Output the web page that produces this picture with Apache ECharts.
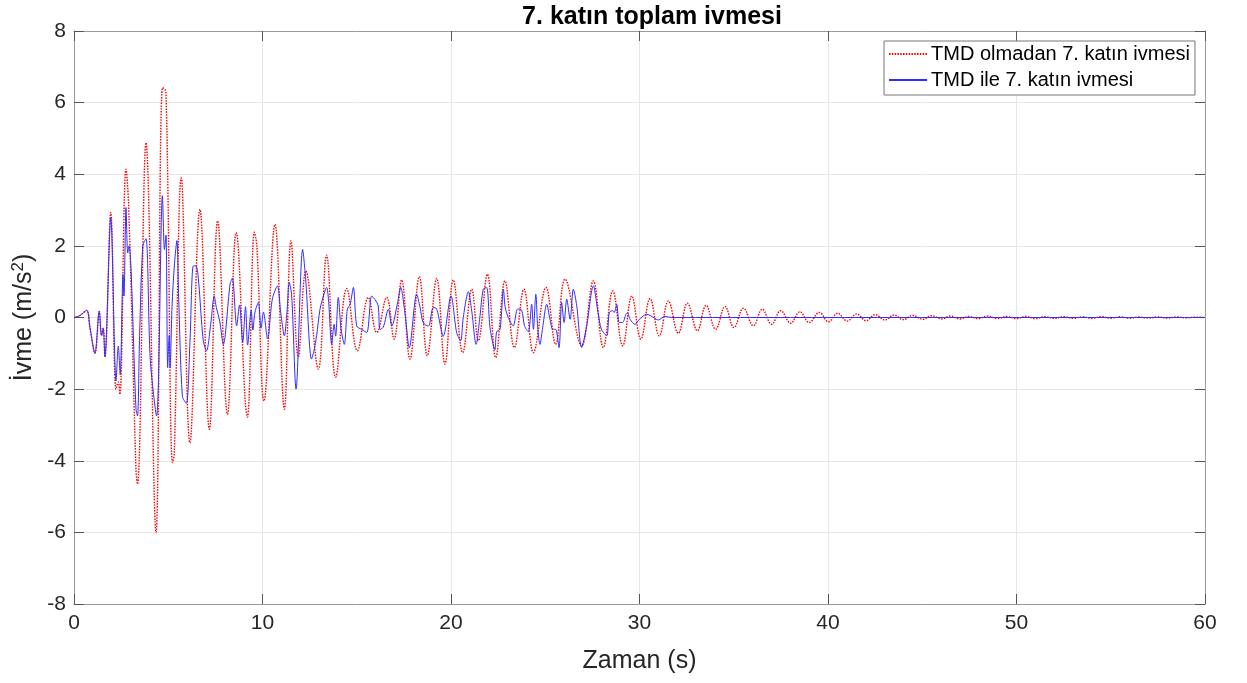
<!DOCTYPE html>
<html>
<head>
<meta charset="utf-8">
<title>7. katın toplam ivmesi</title>
<script src="https://cdn.jsdelivr.net/npm/echarts@6/dist/echarts.min.js"></script>
<style>
	html, body { margin: 0; padding: 0; background: #ffffff; }
	#chart { width: 1247px; height: 683px; }
</style>
</head>
<body>
<div id="chart"></div>
<script>
// [zaman (s), ivme (m/s2)] - peaks and troughs
var ivmeTmdsiz = [
	[0, 0], [0.3, 0.05], [0.67, 0.2], [0.85, -0.3], [1.11, -1.0], [1.34, 0.17], [1.46, -0.5], [1.55, -0.3],
	[1.64, -1.1], [1.95, 2.93], [2.23, -2.0], [2.35, -1.8], [2.43, -2.15], [2.76, 4.14], [2.9, 3.1],
	[3.29, -4.28], [3.37, -4.65], [3.82, 4.88], [4.35, -6.0], [4.7, 6.42], [4.88, 6.3], [5.23, -4.05],
	[5.32, -3.8], [5.69, 3.9], [6.15, -3.5], [6.68, 3.02], [7.18, -3.12], [7.62, 2.7], [8.14, -2.7],
	[8.6, 2.37], [9.09, -2.4], [9.2, -2.78], [9.57, 2.38], [9.7, 2.0], [10.08, -2.33], [10.66, 2.6],
	[11.16, -2.56], [11.51, 2.14], [11.9, -1.1], [12.3, 1.3], [12.96, -1.44], [13.4, 1.74], [13.88, -1.67],
	[14.47, 0.81], [15.03, -0.93], [15.61, 0.56], [16.06, -0.42], [16.59, 0.56], [16.98, -0.6], [17.38, 1.05],
	[17.82, -1.16], [18.32, 1.14], [18.74, -1.07], [19.24, 1.09], [19.68, -1.3], [20.12, 1.05], [20.62, -0.98],
	[21.1, 0.79], [21.45, -0.65], [21.93, 1.21], [22.37, -1.12], [22.86, 1.02], [23.36, -0.84], [23.87, 0.79],
	[24.37, -0.98], [25.04, 0.84], [25.55, -0.75], [26.05, 1.07], [26.93, -0.79], [27.55, 1.02], [28.08, -0.84],
	[28.58, 0.74], [29.11, -0.79], [29.59, 0.6], [30.07, -0.6], [30.56, 0.53], [31.05, -0.51], [31.53, 0.46],
	[32.06, -0.44], [32.54, 0.4], [33.07, -0.37], [33.53, 0.34], [34.04, -0.33], [34.54, 0.31], [35.01, -0.28],
	[35.51, 0.26], [36.04, -0.23], [36.51, 0.23], [37.01, -0.19], [37.49, 0.19], [38.02, -0.16], [38.51, 0.16],
	[39.0, -0.14], [39.54, 0.14], [40.02, -0.12], [40.51, 0.12], [41.02, -0.1], [41.52, 0.1], [42.02, -0.09],
	[42.51, 0.08], [43.02, -0.07], [43.5, 0.07], [44.0, -0.06], [44.49, 0.06], [45.03, -0.05], [45.5, 0.05],
	[46.03, -0.04], [46.47, 0.04], [47.0, -0.04], [47.48, 0.03], [47.98, -0.03], [48.45, 0.04], [49.0, -0.03],
	[49.5, 0.03], [50.0, -0.03], [50.5, 0.03], [51.0, -0.03], [51.5, 0.025], [52.0, -0.025], [52.5, 0.025],
	[53.0, -0.025], [53.5, 0.02], [54.0, -0.02], [54.5, 0.02], [55.0, -0.02], [55.5, 0.02], [56.0, -0.02],
	[56.5, 0.015], [57.0, -0.015], [57.5, 0.015], [58.0, -0.015], [58.5, 0.015], [59.0, -0.01], [59.5, 0.01],
	[60, 0]
];

var ivmeTmdli = [
	[0, 0], [0.3, 0.05], [0.67, 0.2], [0.85, -0.3], [1.11, -1.0], [1.34, 0.17], [1.46, -0.5], [1.55, -0.3],
	[1.64, -1.1], [1.95, 2.8], [2.23, -1.77], [2.35, -0.8], [2.45, -1.6], [2.6, 1.2], [2.65, 0.6], [2.76, 3.07],
	[2.85, 1.8], [2.92, 2.0], [3.29, -2.56], [3.37, -2.75], [3.48, -0.5], [3.65, 2.0], [3.82, 2.2], [4.05, -1.2],
	[4.38, -2.75], [4.69, 3.4], [4.8, 1.9], [4.88, 2.3], [4.97, -1.4], [5.05, -0.5], [5.1, -1.4], [5.2, 0.3],
	[5.33, 1.5], [5.46, 2.15], [5.55, 0.6], [5.75, -2.2], [5.96, -2.4], [6.15, -0.7], [6.33, 1.44], [6.47, 1.44],
	[6.86, -0.65], [7.03, -0.93], [7.25, -0.2], [7.44, 0.6], [7.55, 0.28], [7.73, -0.1], [7.92, -0.75],
	[8.28, 0.93], [8.4, 1.1], [8.63, -0.23], [8.78, 0.35], [8.95, -0.7], [9.1, 0.3], [9.21, -0.77], [9.4, 0.2],
	[9.49, -0.35], [9.6, 0.15], [9.78, 0.42], [9.92, -0.3], [10.05, 0.15], [10.27, -0.6], [10.52, 0.51],
	[10.79, 0.88], [10.96, 0.17], [11.16, -0.51], [11.3, 0.17], [11.42, 0.98], [11.55, 0.6], [11.78, -2.0],
	[12.13, 1.9], [12.29, 1.07], [12.6, -1.16], [12.72, -0.95], [12.87, -0.51], [13.05, 0.23], [13.23, 0.6],
	[13.4, 0.84], [13.5, 0.5], [13.67, -0.75], [13.8, -0.19], [13.88, -0.52], [14.02, 0.56], [14.17, -0.33],
	[14.34, -0.75], [14.5, 0.23], [14.65, 0.37], [14.82, 0.84], [15.0, -0.24], [15.26, -0.33], [15.53, -0.42],
	[15.79, 0.6], [15.97, 0.5], [16.14, 0.32], [16.23, -0.33], [16.4, -0.28], [16.68, 0.23], [16.86, -0.24],
	[17.17, 0.42], [17.33, 0.84], [17.56, 0.1], [17.79, -0.84], [18.18, 0.65], [18.36, 0.28], [18.53, -0.15],
	[18.8, -0.24], [19.06, 0.28], [19.24, 0.24], [19.59, -0.52], [20.0, 0.6], [20.3, -0.42], [20.51, -0.65],
	[20.65, 0.0], [20.92, 0.72], [21.1, 0.18], [21.33, -0.75], [21.54, 0.05], [21.71, 0.79], [21.89, 0.84],
	[22.07, -0.28], [22.33, -0.9], [22.42, -0.4], [22.6, -0.33], [22.78, 0.79], [22.87, 0.3], [23.04, 0.0],
	[23.3, -0.23], [23.54, 0.24], [23.75, 0.2], [23.9, -0.23], [24.1, -0.4], [24.28, 0.37], [24.37, -0.33],
	[24.5, 0.65], [24.6, -0.28], [24.72, -0.75], [24.85, -0.33], [25.08, 0.37], [25.25, -0.05], [25.4, -0.33],
	[25.55, -0.33], [25.73, -0.84], [25.87, 0.42], [26.0, -0.14], [26.14, 0.51], [26.32, -0.05], [26.49, 0.79],
	[26.67, 0.33], [26.93, -0.84], [27.2, -0.23], [27.55, 0.88], [27.8, 0.14], [27.98, -0.33], [28.26, -0.51],
	[28.4, 0.14], [28.58, 0.19], [28.66, 0.14], [28.79, 0.37], [28.93, -0.14], [29.1, -0.14], [29.28, 0.09],
	[29.36, 0.14], [29.5, -0.05], [29.76, -0.19], [30.0, -0.05], [30.38, 0.09], [30.6, 0.05], [31.0, -0.07],
	[31.35, 0.03], [31.7, 0], [60, 0]
];

var seriesNames = ['TMD olmadan 7. katın ivmesi', 'TMD ile 7. katın ivmesi'];
var xTicks = [0, 60, 10];		// min, max, interval
var yTicks = [-8, 8, 2];

var chart = echarts.init(document.getElementById('chart'));

var fontName = 'Liberation Sans, Arial, sans-serif';
var frameLine = { show: true, onZero: false, lineStyle: { color: '#9a9a9a', width: 1 } };
var frameTick = { show: true, inside: true, length: 10, lineStyle: { color: '#555555', width: 1 } };
var labelStyle = { fontFamily: fontName, fontSize: 21, color: '#262626' };

var option = {
	animation: false,
	backgroundColor: '#ffffff',
	title: {
		text: '7. katın toplam ivmesi',
		left: 647, top: 0, textAlign: 'center',
		textStyle: { fontFamily: fontName, fontSize: 25, fontWeight: 'bold', color: '#000000' }
	},
	grid: { left: 74, right: 42, top: 31, bottom: 79 },
	legend: {
		orient: 'vertical',
		right: 52, top: 41,
		padding: [3, 5, 5, 4],
		itemGap: 6,
		itemWidth: 38, itemHeight: 14,
		backgroundColor: '#ffffff',
		borderColor: '#777777', borderWidth: 1,
		itemStyle: { opacity: 0 },
		textStyle: { fontFamily: fontName, fontSize: 20, color: '#000000', padding: [0, 0, 0, -1] },
		data: seriesNames
	},
	xAxis: [{
		type: 'value', position: 'bottom',
		min: xTicks[0], max: xTicks[1], interval: xTicks[2],
		name: 'Zaman (s)', nameLocation: 'middle', nameGap: 45,
		nameTextStyle: { fontFamily: fontName, fontSize: 25, color: '#262626' },
		axisLine: frameLine, axisTick: frameTick,
		axisLabel: Object.assign({ margin: 9 }, labelStyle),
		splitLine: { show: true, lineStyle: { color: '#e6e6e6', width: 1 } }
	}, {
		type: 'value', position: 'top',
		min: xTicks[0], max: xTicks[1], interval: xTicks[2],
		axisLine: frameLine, axisTick: frameTick,
		axisLabel: { show: false }, splitLine: { show: false }
	}],
	yAxis: [{
		type: 'value', position: 'left',
		min: yTicks[0], max: yTicks[1], interval: yTicks[2],
		name: 'İvme (m/s{sup|2})', nameLocation: 'middle', nameGap: 31, nameRotate: 90,
		nameTextStyle: {
			fontFamily: fontName, fontSize: 25, color: '#262626',
			rich: { sup: { fontFamily: fontName, fontSize: 17, color: '#262626', verticalAlign: 'top', padding: [0, 0, 12, 0] } }
		},
		axisLine: frameLine, axisTick: frameTick,
		axisLabel: Object.assign({ margin: 8 }, labelStyle),
		splitLine: { show: true, lineStyle: { color: '#e6e6e6', width: 1 } }
	}, {
		type: 'value', position: 'right',
		min: yTicks[0], max: yTicks[1], interval: yTicks[2],
		axisLine: frameLine, axisTick: frameTick,
		axisLabel: { show: false }, splitLine: { show: false }
	}],
	series: [{
		name: seriesNames[0],
		type: 'line',
		data: ivmeTmdsiz,
		showSymbol: false, symbol: 'none',
		smooth: 0.4,
		lineStyle: { color: '#ff0000', width: 1.4, type: [1.5, 1.3] },
		itemStyle: { color: '#ff0000' },
		z: 2
	}, {
		name: seriesNames[1],
		type: 'line',
		data: ivmeTmdli,
		showSymbol: false, symbol: 'none',
		smooth: 0.3,
		lineStyle: { color: '#2d2dff', width: 1 },
		itemStyle: { color: '#2d2dff' },
		z: 3
	}]
};

chart.setOption(option);
</script>
</body>
</html>
